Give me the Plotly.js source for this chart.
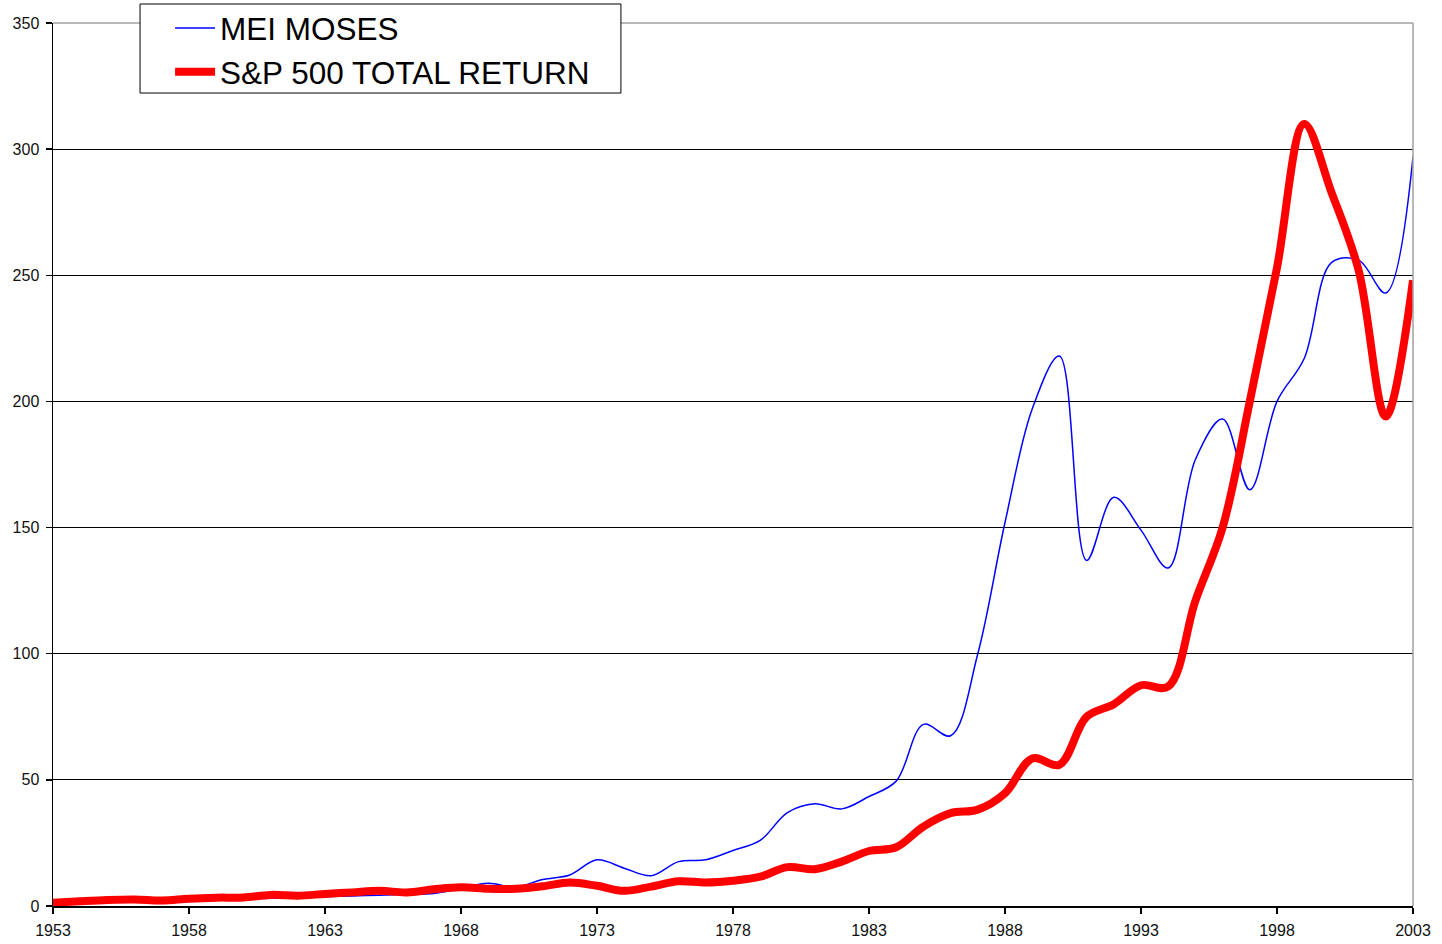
<!DOCTYPE html>
<html>
<head>
<meta charset="utf-8">
<script src="https://cdn.plot.ly/plotly-3.0.1.min.js"></script>
<style>
html,body{margin:0;padding:0;background:#fff;}
#chart{width:1442px;height:944px;}
</style>
</head>
<body>
<div id="chart"></div>
<script>
var years = [1953,1954,1955,1956,1957,1958,1959,1960,1961,1962,1963,1964,1965,1966,1967,1968,1969,1970,1971,1972,1973,1974,1975,1976,1977,1978,1979,1980,1981,1982,1983,1984,1985,1986,1987,1988,1989,1990,1991,1992,1993,1994,1995,1996,1997,1998,1999,2000,2001,2002,2003];

var meiMoses = [1.0,1.2,1.5,1.8,2.0,2.3,2.6,2.9,3.1,3.4,3.7,4.0,4.3,4.6,5.0,7.0,9.0,7.5,10.5,12.3,18.3,15.0,12.0,17.6,18.3,22.0,26.0,37.0,40.5,38.5,43.4,49.5,72,67.5,100,152,197,218,137,162,149,134,177,193,165,200,217,255,256,243,297];

var sp500 = [1.3,1.9,2.4,2.6,2.2,2.9,3.3,3.4,4.4,4.1,4.8,5.4,6.0,5.4,6.6,7.4,6.8,6.8,7.8,9.3,8.0,6.0,7.7,9.8,9.3,10.0,11.6,15.4,14.6,17.6,21.8,23.3,31.5,36.8,38.2,44.7,58.5,56.0,75.0,80.0,87.5,87.0,121,150,200,253,310,283,252,194,248];

var xTicks = [1953,1958,1963,1968,1973,1978,1983,1988,1993,1998,2003];
var yTicks = [0,50,100,150,200,250,300,350];

var seriesNames = ["MEI MOSES","S&P 500 TOTAL RETURN"];

var traces = [
  {x: years, y: meiMoses, name: seriesNames[0], type: "scatter", mode: "lines",
   line: {color: "#0000ff", width: 1.5, shape: "spline", smoothing: 1}},
  {x: years, y: sp500, name: seriesNames[1], type: "scatter", mode: "lines",
   line: {color: "#ff0000", width: 8, shape: "spline", smoothing: 1}}
];

var layout = {
  width: 1442, height: 944,
  margin: {l: 53, r: 29, t: 23, b: 38, pad: 0, autoexpand: false},
  paper_bgcolor: "#ffffff", plot_bgcolor: "#ffffff",
  font: {family: "Liberation Sans, Arial, sans-serif", color: "#000"},
  showlegend: true,
  legend: {
    x: 0.0861, xanchor: "left", y: 1.025, yanchor: "top",
    bgcolor: "rgba(0,0,0,0)", borderwidth: 0,
    font: {size: 31.5, color: "#000", family: "Liberation Sans, Arial, sans-serif"},
    itemwidth: 40, tracegroupgap: 0
  },
  xaxis: {
    range: [1953, 2003], tickmode: "array", tickvals: xTicks, ticktext: xTicks.map(String),
    showgrid: false, zeroline: false, showline: true, linecolor: "#000", linewidth: 1.5,
    ticks: "outside", ticklen: 6, tickcolor: "#000", tickwidth: 1.5,
    tickfont: {size: 16, color: "#111"}, ticklabelstandoff: 3, fixedrange: true
  },
  yaxis: {
    range: [0, 350], tickmode: "array", tickvals: yTicks, ticktext: yTicks.map(String),
    showgrid: true, gridcolor: "#000", gridwidth: 1,
    zeroline: false, showline: true, linecolor: "#000", linewidth: 1.5,
    ticks: "outside", ticklen: 6, tickcolor: "#000", tickwidth: 1.5,
    tickfont: {size: 16, color: "#111"}, ticklabelstandoff: 3, fixedrange: true
  },
  shapes: [
    {type: "line", xref: "paper", yref: "paper", x0: 0, x1: 1, y0: 1, y1: 1,
     line: {color: "#a0a0a0", width: 1.5}, layer: "above"},
    {type: "line", xref: "paper", yref: "paper", x0: 1, x1: 1, y0: 0, y1: 1,
     line: {color: "#a0a0a0", width: 1.5}, layer: "above"},
    {type: "rect", xref: "paper", yref: "paper", x0: 0.064, x1: 0.4176, y0: 0.9207, y1: 1.0215,
     line: {color: "#000", width: 1}, fillcolor: "#ffffff", layer: "above"}
  ]
};

Plotly.newPlot("chart", traces, layout, {staticPlot: true, displayModeBar: false});
</script>
</body>
</html>
